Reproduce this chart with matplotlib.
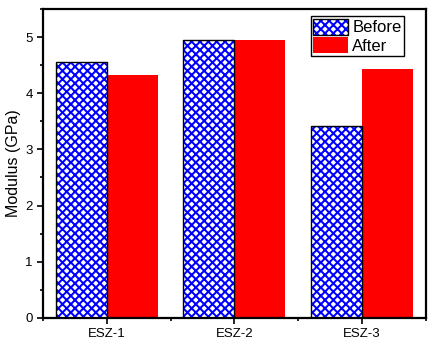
import matplotlib
matplotlib.use("Agg")
import matplotlib.pyplot as plt
import numpy as np
from matplotlib.legend_handler import HandlerTuple
from matplotlib.patches import Patch
from matplotlib.ticker import MultipleLocator

plt.rcParams['font.family'] = ['Liberation Sans', 'DejaVu Sans']
plt.rcParams['hatch.linewidth'] = 1.45

# data
samples = ["ESZ-1", "ESZ-2", "ESZ-3"]
before = [4.55, 4.95, 3.42]
after = [4.32, 4.94, 4.44]

x = np.arange(1, len(samples) + 1)
w = 0.4

fig = plt.figure(figsize=(4.39, 3.47), dpi=100)
ax = fig.add_axes([0.098, 0.084, 0.872, 0.89])

# hatched fill then black outline
ax.bar(x - w / 2, before, w, facecolor="white", edgecolor="#0000ff",
       hatch="xxxx", linewidth=0, zorder=2)
ax.bar(x - w / 2, before, w, fill=False, edgecolor="black", linewidth=1.0, zorder=3)
ax.bar(x + w / 2, after, w, color="#ff0000", linewidth=0, zorder=2)

ax.set_xlim(0.5, 3.5)
ax.set_ylim(0, 5.5)
ax.set_xticks(x)
ax.set_xticklabels(samples)
ax.xaxis.set_minor_locator(MultipleLocator(1, offset=0.5))
ax.yaxis.set_major_locator(MultipleLocator(1))
ax.yaxis.set_minor_locator(MultipleLocator(0.5))
ax.tick_params(which="both", direction="out", width=1.2, labelsize=9.5)
ax.tick_params(which="major", length=4)
ax.tick_params(which="minor", length=2.5)
for s in ax.spines.values():
    s.set_linewidth(1.6)
ax.set_ylabel("Modulus (GPa)", fontsize=11.5, labelpad=3)

h_before = (Patch(facecolor="white", edgecolor="#0000ff", hatch="xxxx", linewidth=0),
            Patch(fill=False, edgecolor="black", linewidth=1.0))
h_after = Patch(facecolor="#ff0000", linewidth=0)
leg = ax.legend([h_before, h_after], ["Before", "After"],
                handler_map={tuple: HandlerTuple(ndivide=1, pad=0)},
                loc="upper right", bbox_to_anchor=(0.943, 0.977),
                fontsize=12, fancybox=False, framealpha=1,
                edgecolor="black", handlelength=2.1, handleheight=1.1,
                handletextpad=0.25, borderpad=0.15, labelspacing=0.1,
                borderaxespad=0)
leg.get_frame().set_linewidth(1.0)

fig.savefig("out.png", dpi=100)
